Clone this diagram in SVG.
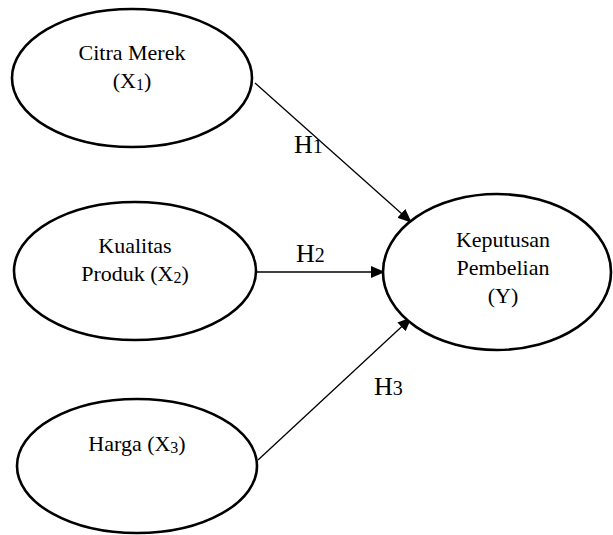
<svg xmlns="http://www.w3.org/2000/svg" width="613" height="535" viewBox="0 0 613 535">
<style>
.node ellipse{fill:#fff;stroke:#000;stroke-width:2.6}
.t{font-family:"Liberation Serif","Times New Roman",serif;font-size:22px;fill:#000;text-anchor:middle}
.h{font-family:"Liberation Serif","Times New Roman",serif;font-size:26px;fill:#000}
.edge{stroke:#000;stroke-width:1.3;fill:none;marker-end:url(#ah)}
</style>
<defs>
<marker id="ah" markerWidth="14" markerHeight="12" refX="13" refY="6" orient="auto" markerUnits="userSpaceOnUse">
<path d="M0,0 L14,6 L0,12 Z" fill="#000"/>
</marker>
</defs>
<rect width="613" height="535" fill="#fff"/>
<g id="connectors">
<line class="edge" x1="255" y1="83" x2="411" y2="222"/>
<line class="edge" x1="257" y1="272" x2="384" y2="272"/>
<line class="edge" x1="258" y1="460" x2="411" y2="318"/>
<text class="h" x="294" y="153">H<tspan font-size="20">1</tspan></text>
<text class="h" x="296" y="262">H<tspan font-size="20">2</tspan></text>
<text class="h" x="374" y="395">H<tspan font-size="20">3</tspan></text>
</g>
<g id="n1" class="node">
<ellipse cx="132" cy="78" rx="120" ry="69"/>
<text class="t" x="132" y="60">Citra Merek</text>
<text class="t" x="132" y="88">(X<tspan font-size="16" dy="2">1</tspan><tspan dy="-2">)</tspan></text>
</g>
<g id="n2" class="node">
<ellipse cx="135" cy="271" rx="121" ry="69"/>
<text class="t" x="135" y="253">Kualitas</text>
<text class="t" x="135" y="281">Produk (X<tspan font-size="16" dy="2">2</tspan><tspan dy="-2">)</tspan></text>
</g>
<g id="n3" class="node">
<ellipse cx="137" cy="466" rx="120" ry="67"/>
<text class="t" x="137" y="451">Harga (X<tspan font-size="16" dy="2">3</tspan><tspan dy="-2">)</tspan></text>
</g>
<g id="y" class="node">
<ellipse cx="497" cy="272" rx="114" ry="78"/>
<text class="t" x="503" y="247">Keputusan</text>
<text class="t" x="503" y="275">Pembelian</text>
<text class="t" x="503" y="303">(Y)</text>
</g>
</svg>
